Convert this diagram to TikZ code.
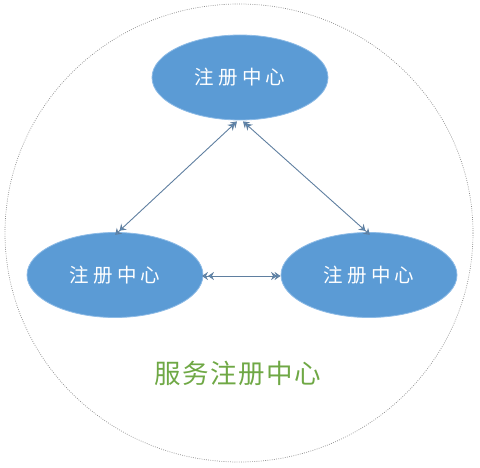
\documentclass[tikz,border=0pt]{standalone}
\usepackage{fontspec}
\newfontfamily\cjk{Noto Sans CJK SC}
\newfontfamily\cjkspaced{Noto Sans CJK SC}[LetterSpace=22]
\newfontfamily\cjktitle{Noto Sans CJK SC}[LetterSpace=6]
\usetikzlibrary{shapes.geometric,arrows.meta,calc}
\definecolor{ellblue}{HTML}{5B9BD5}
\definecolor{ellrim}{HTML}{8DBBE6}
\definecolor{arrcol}{HTML}{5F7FA0}
\definecolor{titlegreen}{HTML}{6FA845}
\tikzset{
  regbox/.style={ellipse, fill=ellblue, draw=ellrim, line width=0.8pt,
    minimum width=176pt, minimum height=85pt, inner sep=0pt,
    text=white, font=\cjkspaced\fontsize{19.5pt}{19.5pt}\selectfont},
  tip/.tip={Stealth[length=6pt,width=8pt,inset=2pt,fill=ellblue!80!arrcol]},
  link/.style={draw=arrcol, line width=0.9pt, {tip[sep=-2.5pt]tip}-{tip[sep=-2.5pt]tip}},
  outline/.style={draw=gray!90, line width=0.7pt, dash pattern=on 0.8pt off 1.4pt}
}
\begin{document}
\begin{tikzpicture}[x=1pt,y=-1pt]
\useasboundingbox (0,0) rectangle (480,468);
\node[draw=none] (c) at (239,233) {};
\draw[outline] (c.center) ellipse [x radius=234, y radius=229];
\node[regbox] (t) at (240,77.5) {注册中心\hspace{-4.3pt}};
\node[regbox] (l) at (115,275) {注册中心\hspace{-4.3pt}};
\node[regbox] (r) at (369,275) {注册中心\hspace{-4.3pt}};
\draw[link] ($(l.north)+(2,1)$) -- ($(t.south)+(-3,1)$);
\draw[link] ($(r.north)+(-1,1)$) -- ($(t.south)+(3,1)$);
\draw[link] ($(l.east)+(1,1)$) -- ($(r.west)+(0,1)$);
\node[text=titlegreen, font=\cjktitle\fontsize{26.5pt}{26.5pt}\selectfont] (title) at (238,373) {服务注册中心\hspace{-1.5pt}};
\end{tikzpicture}
\end{document}
